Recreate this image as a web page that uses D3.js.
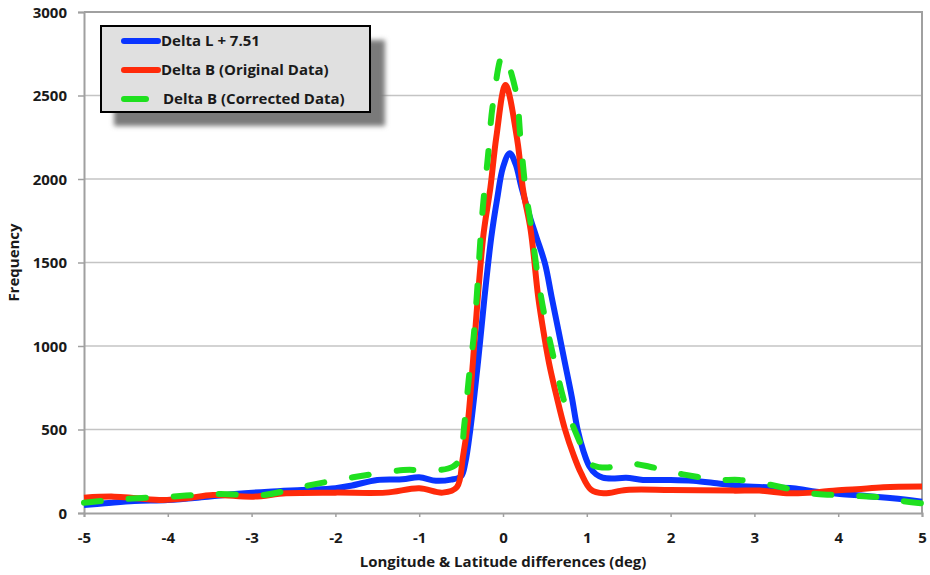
<!DOCTYPE html>
<html>
<head>
<meta charset="utf-8">
<script src="https://cdn.jsdelivr.net/npm/d3@7"></script>
<style>
  body { margin: 0; background: #fff; }
  text { font-family: "Open Sans", sans-serif; font-weight: bold; fill: #1a1a1a; }
</style>
</head>
<body>
<svg id="chart" width="930" height="575"></svg>
<script>
"use strict";
var width = 930;
var height = 575;
var margin = { top: 12, right: 8, bottom: 62, left: 84 };

// data: [x (deg), frequency]
var deltaL = [
  [-5, 48], [-4.75, 58], [-4.4, 72], [-4.0, 78], [-3.6, 94], [-3.2, 114],
  [-2.8, 128], [-2.4, 138], [-2.0, 148], [-1.8, 165], [-1.5, 198], [-1.2, 202],
  [-1.0, 214], [-0.8, 193], [-0.62, 200], [-0.5, 220], [-0.45, 300], [-0.39, 500],
  [-0.30, 896], [-0.22, 1295], [-0.14, 1650], [-0.07, 1880], [0.0, 2070],
  [0.08, 2154], [0.15, 2090], [0.22, 1950], [0.31, 1790], [0.40, 1650],
  [0.50, 1495], [0.58, 1295], [0.66, 1096], [0.74, 896], [0.82, 697],
  [0.89, 500], [0.96, 370], [1.03, 280], [1.11, 232], [1.19, 212], [1.3, 206],
  [1.47, 211], [1.67, 198], [2.0, 198], [2.27, 193], [2.55, 178], [2.82, 162],
  [3.15, 154], [3.46, 148], [3.74, 128], [4.02, 114], [4.34, 102], [4.65, 88],
  [5, 68]
];
var deltaB = [
  [-5, 92], [-4.64, 98], [-4.37, 88], [-4.06, 78], [-3.78, 88], [-3.46, 108],
  [-2.98, 98], [-2.59, 118], [-2.0, 122], [-1.4, 122], [-1.0, 148], [-0.72, 122],
  [-0.55, 155], [-0.48, 330], [-0.42, 540], [-0.36, 896], [-0.30, 1295],
  [-0.23, 1680], [-0.15, 1950], [-0.08, 2250], [0.03, 2563], [0.17, 2234],
  [0.24, 1934], [0.33, 1695], [0.42, 1295], [0.48, 1096], [0.55, 896],
  [0.64, 697], [0.74, 500], [0.84, 350], [0.93, 240], [1.05, 140], [1.2, 118],
  [1.47, 138], [2.0, 138], [2.75, 134], [3.06, 134], [3.42, 118], [3.70, 122],
  [3.94, 134], [4.22, 142], [4.54, 154], [5, 158]
];
var deltaBCorr = [
  [-5, 62], [-4.57, 82], [-3.98, 98], [-3.39, 114], [-2.86, 108], [-2.39, 158],
  [-1.79, 214], [-1.19, 257], [-0.99, 257], [-0.76, 257], [-0.6, 277],
  [-0.52, 320], [-0.46, 537], [-0.41, 796], [-0.35, 1056], [-0.31, 1320],
  [-0.27, 1635], [-0.24, 1834], [-0.18, 2134], [-0.12, 2450], [0.0, 2745],
  [0.15, 2533], [0.21, 2234], [0.27, 1934], [0.33, 1735], [0.41, 1435],
  [0.49, 1196], [0.62, 896], [0.75, 637], [0.94, 397], [1.03, 298], [1.23, 272],
  [1.47, 298], [1.75, 277], [1.99, 247], [2.31, 217], [2.55, 198], [2.82, 198],
  [3.10, 178], [3.38, 148], [3.66, 118], [3.94, 108], [4.22, 102], [4.50, 94],
  [4.73, 74], [5, 58]
];
var seriesNames = ["Delta L + 7.51", "Delta B (Original Data)", "Delta B (Corrected Data)"];
var seriesColors = ["#0a35ff", "#ff2a0a", "#1fe01f"];
var xTicks = [-5, -4, -3, -2, -1, 0, 1, 2, 3, 4, 5];
var yTicks = [0, 500, 1000, 1500, 2000, 2500, 3000];

var svg = d3.select("#chart");

var x = d3.scaleLinear().domain([-5, 5]).range([margin.left, width - margin.right]);
var y = d3.scaleLinear().domain([0, 3000]).range([height - margin.bottom, margin.top]);

// horizontal grid
svg.append("g")
  .selectAll("line")
  .data(yTicks.filter(function (d) { return d > 0 && d < 3000; }))
  .enter()
  .append("line")
  .attr("x1", x(-5))
  .attr("x2", x(5))
  .attr("y1", function (d) { return y(d); })
  .attr("y2", function (d) { return y(d); })
  .attr("stroke", "#c4c4c4")
  .attr("stroke-width", 1.3);

// frame top + right
svg.append("path")
  .attr("d", "M" + x(-5) + "," + y(3000) + "H" + x(5) + "V" + y(0))
  .attr("fill", "none")
  .attr("stroke", "#a0a0a0")
  .attr("stroke-width", 2);

// axes (plain hyphen for negatives, like the original)
var fmt = function (d) { return String(d); };
var xAxis = svg.append("g")
  .attr("transform", "translate(0," + y(0) + ")")
  .call(d3.axisBottom(x).tickValues(xTicks).tickSize(4).tickPadding(15).tickFormat(fmt));
var yAxis = svg.append("g")
  .attr("transform", "translate(" + x(-5) + ",0)")
  .call(d3.axisLeft(y).tickValues(yTicks).tickSize(6).tickPadding(11).tickFormat(fmt));

[xAxis, yAxis].forEach(function (g) {
  g.select(".domain").attr("stroke", "#a0a0a0").attr("stroke-width", 2);
  g.selectAll(".tick line").attr("stroke", "#a0a0a0").attr("stroke-width", 1.5);
  g.selectAll(".tick text").style("font-size", "15px").style("font-family", null);
});
yAxis.selectAll(".tick text").attr("dy", "0.36em");

// axis titles
svg.append("text")
  .attr("x", (x(-5) + x(5)) / 2)
  .attr("y", 567)
  .attr("text-anchor", "middle")
  .style("font-size", "15px")
  .text("Longitude & Latitude differences (deg)");
svg.append("text")
  .attr("transform", "translate(19," + (y(0) + y(3000)) / 2 + ") rotate(-90)")
  .attr("text-anchor", "middle")
  .style("font-size", "15px")
  .text("Frequency");

// lines
var line = d3.line()
  .x(function (d) { return x(d[0]); })
  .y(function (d) { return y(d[1]); })
  .curve(d3.curveCatmullRom.alpha(0.5));

var plot = svg.append("g");
plot.append("path")
  .datum(deltaL)
  .attr("d", line)
  .attr("fill", "none")
  .attr("stroke", seriesColors[0])
  .attr("stroke-width", 6)
  .attr("stroke-linejoin", "round");
plot.append("path")
  .datum(deltaB)
  .attr("d", line)
  .attr("fill", "none")
  .attr("stroke", seriesColors[1])
  .attr("stroke-width", 6)
  .attr("stroke-linejoin", "round");
plot.append("path")
  .datum(deltaBCorr)
  .attr("d", line)
  .attr("fill", "none")
  .attr("stroke", seriesColors[2])
  .attr("stroke-width", 6)
  .attr("stroke-linecap", "round")
  .attr("stroke-dasharray", "17,28");

// legend with drop shadow
var defs = svg.append("defs");
defs.append("filter")
  .attr("id", "blur")
  .attr("x", "-10%").attr("y", "-10%").attr("width", "120%").attr("height", "120%")
  .append("feGaussianBlur")
  .attr("stdDeviation", 2.5);

var legend = svg.append("g").attr("transform", "translate(101,26)");
legend.append("rect")
  .attr("x", 13).attr("y", 14)
  .attr("width", 271).attr("height", 86)
  .attr("fill", "#7a7a7a")
  .attr("filter", "url(#blur)");
legend.append("rect")
  .attr("width", 269).attr("height", 86)
  .attr("fill", "#e0e0e0")
  .attr("stroke", "#000")
  .attr("stroke-width", 2);

var item = legend.selectAll("g.item")
  .data(seriesNames)
  .enter()
  .append("g")
  .attr("class", "item")
  .attr("transform", function (d, i) { return "translate(0," + (15 + i * 29) + ")"; });
item.append("line")
  .attr("x1", 23)
  .attr("x2", function (d, i) { return i == 2 ? 45 : 57; })
  .attr("stroke", function (d, i) { return seriesColors[i]; })
  .attr("stroke-width", 6)
  .attr("stroke-linecap", "round");
item.append("text")
  .attr("x", function (d, i) { return i == 2 ? 62 : 60; })
  .attr("dy", "0.36em")
  .style("font-size", "15px")
  .text(function (d) { return d; });
</script>
</body>
</html>
